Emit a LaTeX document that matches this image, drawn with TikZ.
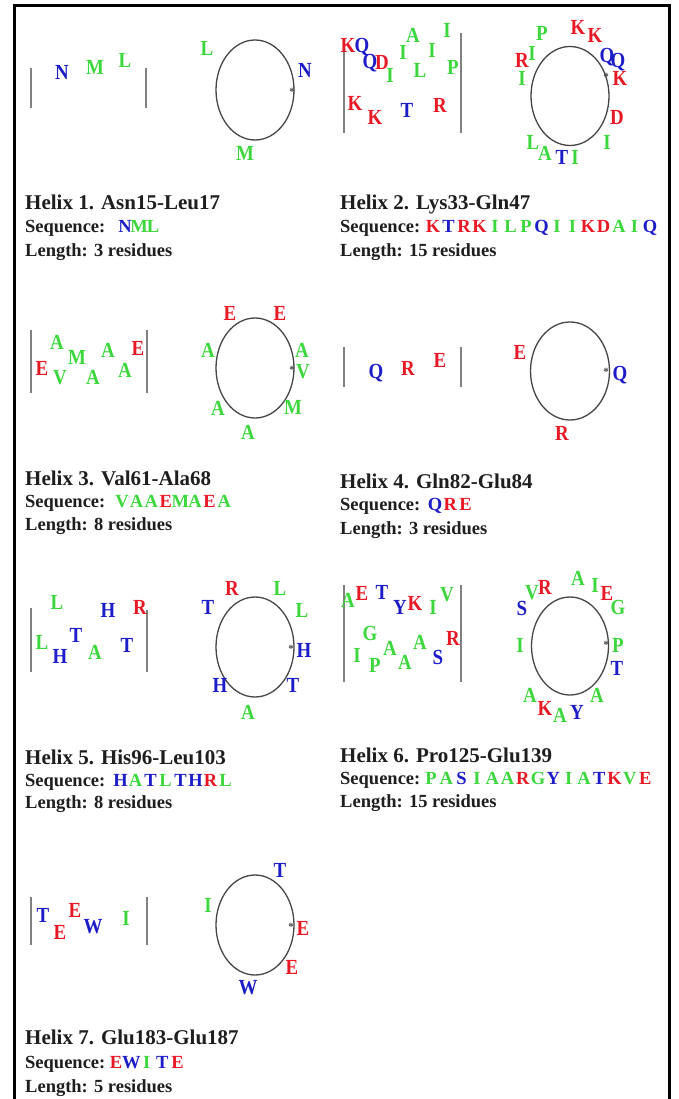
\documentclass[tikz,border=0pt]{standalone}
\usepackage{fontspec}
\setmainfont{Liberation Serif}
\newfontfamily\resfamily[FakeStretch=0.88]{Liberation Serif}
\definecolor{resred}{RGB}{232,24,36}
\definecolor{resgreen}{RGB}{60,215,60}
\definecolor{resblue}{RGB}{28,28,200}
\definecolor{txtdark}{RGB}{30,30,30}
\definecolor{wheelline}{RGB}{70,70,70}
\definecolor{barline}{RGB}{128,128,128}
\newcommand\resfnt{\resfamily\fontsize{21.5}{21.5}\selectfont\bfseries}
\newcommand\titfnt{\fontsize{21}{21}\selectfont\bfseries}
\newcommand\infofnt{\fontsize{18.5}{18.5}\selectfont\bfseries}
\tikzset{
  res/.style={font=\resfnt, inner sep=0pt, anchor=center},
  rr/.style={res, text=resred},
  gg/.style={res, text=resgreen},
  bb/.style={res, text=resblue},
  sq/.style={font=\infofnt, inner sep=0pt, anchor=base},
  sr/.style={sq, text=resred},
  sgn/.style={sq, text=resgreen},
  sb/.style={sq, text=resblue},
  wheel/.style={draw=wheelline, line width=1.3pt},
  bar/.style={draw=barline, line width=2pt},
  startmark/.style={font=\fontsize{11}{11}\selectfont\bfseries, text=wheelline, inner sep=0pt},
  titletext/.style={font=\titfnt, text=txtdark, inner sep=0pt, anchor=base west},
  infotext/.style={font=\infofnt, text=txtdark, inner sep=0pt, anchor=base west},
  frame/.style={draw=black, line width=3pt}
}
\begin{document}
\begin{tikzpicture}[x=1pt,y=-1pt]
\useasboundingbox (0,0) rectangle (678,1099);
\fill[white] (0,0) rectangle (678,1099);
% frame
\coordinate (fbl) at (14,1110);
\coordinate (ftl) at (14,5.5);
\coordinate (ftr) at (669,5.5);
\coordinate (fbr) at (669,1110);
\draw[frame] (fbl) -- (ftl) -- (ftr) -- (fbr);

% ================= Helix 1 =================
\coordinate (h1la) at (31,68); \coordinate (h1lb) at (31,108);
\coordinate (h1ra) at (146,68); \coordinate (h1rb) at (146,108);
\draw[bar] (h1la) -- (h1lb); \draw[bar] (h1ra) -- (h1rb);
\foreach \x/\y/\s/\t [count=\i] in {62/72/bb/N, 95/67/gg/M, 125/60/gg/L}
  \node[\s] (h1p\i) at (\x,\y) {\t};
\draw[wheel] (255,90) ellipse (39 and 50);
\node[startmark] (h1st) at (292,92) {*};
\foreach \x/\y/\s/\t [count=\i] in {207/48/gg/L, 305/70/bb/N, 245/153/gg/M}
  \node[\s] (h1w\i) at (\x,\y) {\t};
\node[titletext] (h1t) at (25,210) {Helix 1. Asn15-Leu17};
\node[infotext] (h1s) at (25,233) {Sequence:};
\foreach \s/\t [count=\i] in {sb/N, sgn/M, sgn/L}
  \node[\s] (h1q\i) at ({125+14*(\i-1)},233) {\t};
\node[infotext] (h1n) at (25,256) {Length: 3 residues};

% ================= Helix 2 =================
\coordinate (h2la) at (344,40); \coordinate (h2lb) at (344,133);
\coordinate (h2ra) at (461,33); \coordinate (h2rb) at (461,133);
\draw[bar] (h2la) -- (h2lb); \draw[bar] (h2ra) -- (h2rb);
\foreach \x/\y/\s/\t [count=\i] in {348/45/rr/K, 362/47/bb/Q, 370/63/bb/Q, 382/62/rr/D, 390/75/gg/I,
   403/52/gg/I, 413/35/gg/A, 420/70/gg/L, 432/50/gg/I, 447/30/gg/I, 453/67/gg/P,
   355/103/rr/K, 375/117/rr/K, 407/110/bb/T, 440/105/rr/R}
  \node[\s] (h2p\i) at (\x,\y) {\t};
\draw[wheel] (570,96) ellipse (39 and 49.5);
\node[startmark] (h2st) at (606,77) {*};
\foreach \x/\y/\s/\t [count=\i] in {542/33/gg/P, 578/27/rr/K, 595/35/rr/K, 522/60/rr/R, 532/53/gg/I,
   522/78/gg/I, 607/57/bb/Q, 618/62/bb/Q, 620/78/rr/K, 617/117/rr/D, 607/142/gg/I,
   533/142/gg/L, 545/153/gg/A, 562/157/bb/T, 575/157/gg/I}
  \node[\s] (h2w\i) at (\x,\y) {\t};
\node[titletext] (h2t) at (340,210) {Helix 2. Lys33-Gln47};
\node[infotext] (h2s) at (340,233) {Sequence:};
\foreach \s/\t [count=\i] in {sr/K, sb/T, sr/R, sr/K, sgn/I, sgn/L, sgn/P, sb/Q, sgn/I, sgn/I, sr/K, sr/D, sgn/A, sgn/I, sb/Q}
  \node[\s] (h2q\i) at ({433+15.5*(\i-1)},233) {\t};
\node[infotext] (h2n) at (340,256) {Length: 15 residues};

% ================= Helix 3 =================
\coordinate (h3la) at (31,330); \coordinate (h3lb) at (31,393);
\coordinate (h3ra) at (147,330); \coordinate (h3rb) at (147,393);
\draw[bar] (h3la) -- (h3lb); \draw[bar] (h3ra) -- (h3rb);
\foreach \x/\y/\s/\t [count=\i] in {42/368/rr/E, 57/342/gg/A, 77/357/gg/M, 60/378/gg/V,
   93/377/gg/A, 108/350/gg/A, 125/370/gg/A, 138/348/rr/E}
  \node[\s] (h3p\i) at (\x,\y) {\t};
\draw[wheel] (255,368) ellipse (39 and 50);
\node[startmark] (h3st) at (292,370) {*};
\foreach \x/\y/\s/\t [count=\i] in {230/313/rr/E, 280/313/rr/E, 208/350/gg/A, 302/350/gg/A,
   303/372/gg/V, 218/408/gg/A, 293/407/gg/M, 248/432/gg/A}
  \node[\s] (h3w\i) at (\x,\y) {\t};
\node[titletext] (h3t) at (25,485) {Helix 3. Val61-Ala68};
\node[infotext] (h3s) at (25,507) {Sequence:};
\foreach \s/\t [count=\i] in {sgn/V, sgn/A, sgn/A, sr/E, sgn/M, sgn/A, sr/E, sgn/A}
  \node[\s] (h3q\i) at ({122+14.6*(\i-1)},507) {\t};
\node[infotext] (h3n) at (25,530) {Length: 8 residues};

% ================= Helix 4 =================
\coordinate (h4la) at (344,347); \coordinate (h4lb) at (344,387);
\coordinate (h4ra) at (461,347); \coordinate (h4rb) at (461,387);
\draw[bar] (h4la) -- (h4lb); \draw[bar] (h4ra) -- (h4rb);
\foreach \x/\y/\s/\t [count=\i] in {376/373/bb/Q, 408/368/rr/R, 440/360/rr/E}
  \node[\s] (h4p\i) at (\x,\y) {\t};
\draw[wheel] (570,371) ellipse (39.5 and 49);
\node[startmark] (h4st) at (606,372) {*};
\foreach \x/\y/\s/\t [count=\i] in {520/352/rr/E, 620/375/bb/Q, 562/433/rr/R}
  \node[\s] (h4w\i) at (\x,\y) {\t};
\node[titletext] (h4t) at (340,488) {Helix 4. Gln82-Glu84};
\node[infotext] (h4s) at (340,510) {Sequence:};
\foreach \s/\t [count=\i] in {sb/Q, sr/R, sr/E}
  \node[\s] (h4q\i) at ({435+15.3*(\i-1)},510) {\t};
\node[infotext] (h4n) at (340,534) {Length: 3 residues};

% ================= Helix 5 =================
\coordinate (h5la) at (31,608); \coordinate (h5lb) at (31,672);
\coordinate (h5ra) at (147,610); \coordinate (h5rb) at (147,672);
\draw[bar] (h5la) -- (h5lb); \draw[bar] (h5ra) -- (h5rb);
\foreach \x/\y/\s/\t [count=\i] in {57/602/gg/L, 108/610/bb/H, 140/607/rr/R, 42/642/gg/L,
   76/635/bb/T, 60/656/bb/H, 95/652/gg/A, 127/645/bb/T}
  \node[\s] (h5p\i) at (\x,\y) {\t};
\draw[wheel] (255,647) ellipse (39 and 50);
\node[startmark] (h5st) at (291,649) {*};
\foreach \x/\y/\s/\t [count=\i] in {232/588/rr/R, 280/588/gg/L, 208/607/bb/T, 302/610/gg/L,
   304/650/bb/H, 220/685/bb/H, 293/685/bb/T, 248/712/gg/A}
  \node[\s] (h5w\i) at (\x,\y) {\t};
\node[titletext] (h5t) at (25,764) {Helix 5. His96-Leu103};
\node[infotext] (h5s) at (25,786) {Sequence:};
\foreach \s/\t [count=\i] in {sb/H, sgn/A, sb/T, sgn/L, sb/T, sb/H, sr/R, sgn/L}
  \node[\s] (h5q\i) at ({120.5+15*(\i-1)},786) {\t};
\node[infotext] (h5n) at (25,808) {Length: 8 residues};

% ================= Helix 6 =================
\coordinate (h6la) at (344,585); \coordinate (h6lb) at (344,682);
\coordinate (h6ra) at (461,585); \coordinate (h6rb) at (461,682);
\draw[bar] (h6la) -- (h6lb); \draw[bar] (h6ra) -- (h6rb);
\foreach \x/\y/\s/\t [count=\i] in {348/600/gg/A, 362/593/rr/E, 382/592/bb/T, 400/607/bb/Y,
   415/603/rr/K, 433/607/gg/I, 447/595/gg/V, 370/633/gg/G, 390/648/gg/A, 420/642/gg/A,
   453/638/rr/R, 357/655/gg/I, 375/665/gg/P, 405/662/gg/A, 438/657/bb/S}
  \node[\s] (h6p\i) at (\x,\y) {\t};
\draw[wheel] (570,646) ellipse (38.5 and 49);
\node[startmark] (h6st) at (606,645) {*};
\foreach \x/\y/\s/\t [count=\i] in {522/608/bb/S, 532/593/gg/V, 545/587/rr/R, 578/578/gg/A,
   595/585/gg/I, 607/593/rr/E, 618/607/gg/G, 520/645/gg/I, 618/645/gg/P, 617/668/bb/T,
   530/695/gg/A, 597/695/gg/A, 545/708/rr/K, 560/715/gg/A, 577/712/bb/Y}
  \node[\s] (h6w\i) at (\x,\y) {\t};
\node[titletext] (h6t) at (340,762) {Helix 6. Pro125-Glu139};
\node[infotext] (h6s) at (340,784) {Sequence:};
\foreach \s/\t [count=\i] in {sgn/P, sgn/A, sb/S, sgn/I, sgn/A, sgn/A, sr/R, sgn/G, sb/Y, sgn/I, sgn/A, sb/T, sr/K, sgn/V, sr/E}
  \node[\s] (h6q\i) at ({431+15.3*(\i-1)},784) {\t};
\node[infotext] (h6n) at (340,807) {Length: 15 residues};

% ================= Helix 7 =================
\coordinate (h7la) at (31,897); \coordinate (h7lb) at (31,945);
\coordinate (h7ra) at (147,897); \coordinate (h7rb) at (147,945);
\draw[bar] (h7la) -- (h7lb); \draw[bar] (h7ra) -- (h7rb);
\foreach \x/\y/\s/\t [count=\i] in {43/915/bb/T, 60/932/rr/E, 75/910/rr/E, 93/927/bb/W, 126/918/gg/I}
  \node[\s] (h7p\i) at (\x,\y) {\t};
\draw[wheel] (255,925) ellipse (39 and 50);
\node[startmark] (h7st) at (291,927) {*};
\foreach \x/\y/\s/\t [count=\i] in {280/870/bb/T, 208/905/gg/I, 303/928/rr/E, 292/967/rr/E, 248/988/bb/W}
  \node[\s] (h7w\i) at (\x,\y) {\t};
\node[titletext] (h7t) at (25,1044) {Helix 7. Glu183-Glu187};
\node[infotext] (h7s) at (25,1068) {Sequence:};
\foreach \s/\t [count=\i] in {sr/E, sb/W, sgn/I, sb/T, sr/E}
  \node[\s] (h7q\i) at ({116+15.4*(\i-1)},1068) {\t};
\node[infotext] (h7n) at (25,1092) {Length: 5 residues};
\end{tikzpicture}
\end{document}
